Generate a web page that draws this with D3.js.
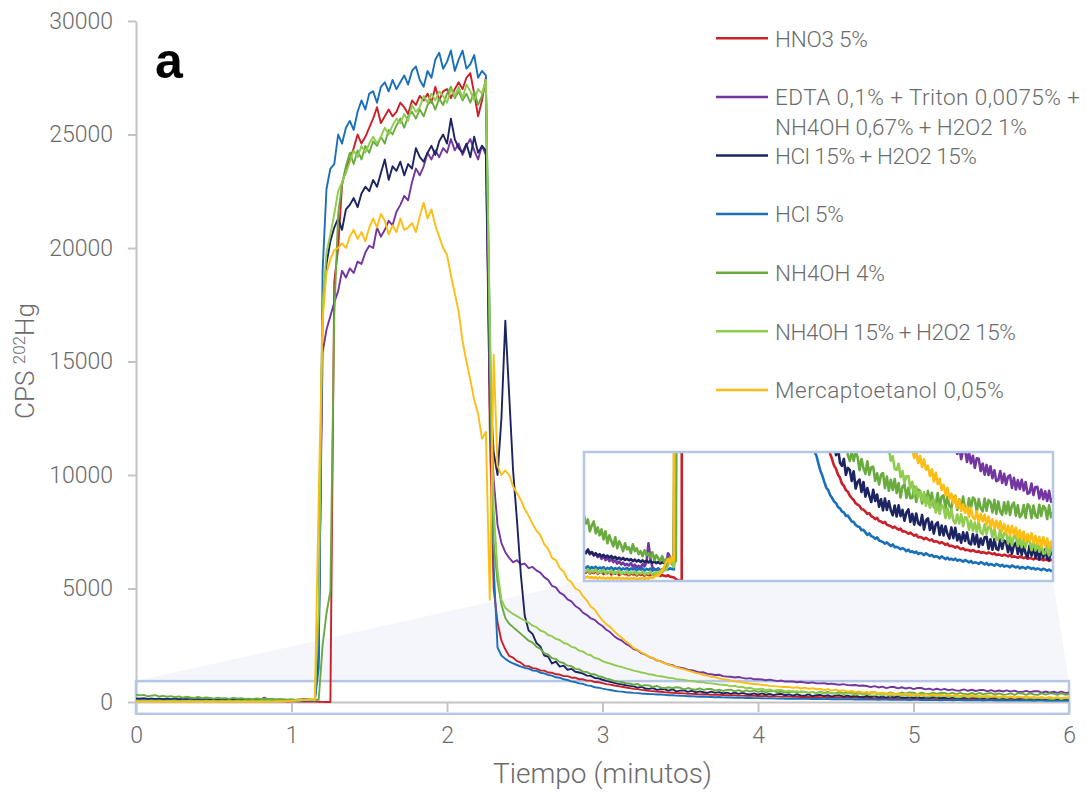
<!DOCTYPE html>
<html><head><meta charset="utf-8">
<script src="https://cdn.jsdelivr.net/npm/d3@7"></script>
<style>
body{margin:0;background:#fff;}
svg{display:block;}
</style></head><body>
<svg id="chart" width="1087" height="793"></svg>
<script>
// ---- sampling of the signal (minutes) ----
const sampleStart = 0, sampleStep = 0.025;

// ---- series names / colours ----
const seriesNames = ["HNO3 5%", "EDTA 0,1% + Triton 0,0075% + NH4OH 0,67% + H2O2 1%", "HCl 15% + H2O2 15%", "HCl 5%", "NH4OH 4%", "NH4OH 15% + H2O2 15%", "Mercaptoetanol 0,05%"];
const legendLines = [["HNO3 5%"], ["EDTA 0,1% + Triton 0,0075% +", "NH4OH 0,67% + H2O2 1%"], ["HCl 15% + H2O2 15%"], ["HCl 5%"], ["NH4OH 4%"], ["NH4OH 15% + H2O2 15%"], ["Mercaptoetanol 0,05%"]];
const seriesColors = ["#c9202a", "#7335a0", "#1d2462", "#1a70b8", "#6aab3f", "#8fcc4f", "#fdbd14"];

// ---- CPS 202Hg values, one per sample ----
const hno3 = [
50,42,55,38,46,40,52,36,44,48,35,42,39,45,33,40,37,43,30,38,41,34,36,29,39,33,35,28,37,31,34,27,36,30,28,33,26,31,35,25,30,27,24,29,22,20,18,
10,4,2,0,18500,
20000,22800,23500,23900,24400,25000,24600,24900,25300,25700,26200,25500,25800,26100,25800,26000,26400,26200,25900,26500,26300,26700,26500,26800,26400,27100,26500,26900,27000,26600,27000,27300,27000,27500,27700,26800,25800,26500,27500,
12000,5000,3500,2700,2320,2030,1950,1800,1730,1590,1580,1490,1470,1390,1380,1300,1290,1220,1210,1140,1140,1070,1070,1000,1000,940,940,880,870,
830,790,765,725,700,672,640,612,580,565,535,520,490,480,458,450,430,418,408,392,385,378,362,360,350,338,342,326,322,312,318,302,
300,292,298,283,280,276,268,274,265,258,264,250,250,246,238,244,236,228,234,220,222,218,210,218,210,204,210,198,200,198,190,196,
190,182,188,176,178,174,168,174,166,160,166,155,157,155,150,156,150,146,150,142,145,143,138,144,140,135,140,131,134,132,127,133,
129,124,130,121,124,122,117,123,120,115,120,112,116,114,109,115,112,107,112,104,108,106,101,107,104];

const edta = [
150,140,160,135,145,128,138,120,130,112,125,105,118,100,110,95,104,88,98,84,92,80,86,78,90,72,82,70,76,68,85,74,95,190,110,70,60,55,64,52,58,62,70,140,120,95,80,
3000,15400,16400,17000,17600,18100,19000,18700,19100,18900,19400,19300,19800,20100,20000,20900,20500,20800,21200,21000,21600,21900,22300,22100,22900,23500,23200,23600,24200,23900,24300,24000,24400,24200,24800,24300,24600,24100,24500,24800,24300,23900,24500,24100,
13000,9800,7800,7000,6600,
6350,6150,6250,6050,6100,5900,5950,5800,5700,5500,5380,5120,5050,4820,4720,4520,4430,4230,4120,3930,3830,3680,3620,3460,
3350,3180,3070,2900,2780,2700,2560,2470,2330,2280,2150,2090,1980,1930,1830,1790,1710,1650,1620,1540,1510,1480,1410,1400,
1350,1300,1310,1240,1220,1190,1200,1140,1120,1110,1080,1100,1060,1030,1050,1000,1000,990,960,985,950,920,945,900,
900,905,870,890,860,835,865,820,820,830,795,810,780,760,785,745,740,750,715,725,
705,655,700,640,675,614,658,661,600,649,593,631,570,618,616,554,592,536,585,534,578,518,558,503,
508,554,494,540,485,526,533,469,520,461,508,464,510,456,498,439,445,491,433,474,475,416,461,412,452,403,454,399,415];

const hcl15 = [
150,142,155,138,146,132,140,128,135,124,132,120,128,118,126,114,122,110,118,108,116,106,112,104,110,100,108,98,105,96,104,95,102,94,100,92,98,90,96,88,95,90,98,92,100,96,90,
2000,17500,19300,20300,20900,21300,20800,21700,21900,22200,21800,22400,22700,22500,23000,22700,23300,23900,23000,23600,23400,23800,23200,23700,23500,24400,24000,23800,24200,24500,24100,24700,25000,24600,25700,24800,24400,24200,24600,24000,24900,24200,24500,24300,
14000,11000,10000,12500,16800,13500,10200,8000,5600,3800,3150,3000,2600,2450,2050,2000,1700,1780,1560,1600,1420,1460,1330,1300,1250,1160,1150,1060,1040,
980,930,885,840,800,775,738,712,
690,634,668,596,580,615,535,570,560,504,553,466,500,511,448,499,425,468,430,398,460,403,436,374,412,356,415,358,402,356,331,380,
325,381,327,358,304,345,361,297,338,284,340,291,282,333,259,305,316,257,298,239,285,296,232,279,230,276,237,214,270,216,268,204,236,193,245,202,244,192,184,237,
185,233,171,214,182,220,223,162,210,158,211,163,156,209,162,204,197,145,189,137,180,193,136,179,132,180,138,121,179,127,175,118,156,110,163,117,160,113,107,155,128];

const hcl5 = [
70,66,74,62,70,64,72,60,68,63,70,58,66,61,69,57,65,60,67,56,64,59,66,55,63,58,65,54,62,57,64,53,61,56,63,52,60,55,62,51,59,54,61,58,64,60,58,
1500,19000,22600,23500,23700,25000,24600,25300,25600,25200,26000,26500,26100,26800,26900,26400,27100,27300,26900,27400,27000,27300,27600,27200,27800,28000,27400,27100,27800,27500,28300,28600,27900,28200,28700,27800,28300,28700,27900,28100,28500,27500,27800,27600,
16500,6000,2400,2050,1900,1780,1700,1630,1560,
1500,1470,1390,1370,1290,1260,1190,1160,1090,1070,1000,970,910,880,820,800,730,710,650,630,
590,555,530,498,470,458,432,418,400,392,372,366,350,346,328,330,315,300,298,282,275,272,256,258,
245,232,240,226,222,212,220,204,200,196,188,195,185,176,184,170,172,168,160,166,160,150,158,146,
150,142,148,136,141,138,130,140,133,126,132,121,125,122,114,124,117,110,118,108,112,106,113,102,
107,104,97,106,100,94,101,90,94,92,86,95,90,84,91,80,85,83,77,86,81,75,82,72,
77,75,69,78,73,68,74,64,70,68,62,71,67,61,66,58,63,60,55,62,58,52,58,50,54];

const nh4oh4 = [
330,290,310,250,280,300,240,270,230,260,210,250,190,230,200,175,220,165,200,180,150,190,160,170,140,185,150,165,135,150,125,155,130,140,120,145,105,130,115,100,125,95,110,90,120,85,100,
100,2500,3900,4900,17000,21500,22800,23600,24200,23700,24300,23900,24500,24200,24700,24500,24900,24600,25200,25000,25400,25700,25300,25800,26000,25700,26100,25800,26300,26500,26100,26600,26300,26800,27100,26600,26900,26500,26800,26400,26900,26300,26700,27400,
15000,7000,5300,4300,3700,3450,3300,3150,3000,2850,
2700,2620,2440,2340,2150,2090,1930,1890,1760,1720,1600,1580,1460,1440,1340,1320,1230,1220,1140,
1100,1030,990,930,900,880,825,815,
760,795,710,745,730,660,710,635,605,650,605,650,625,558,615,568,540,603,535,573,575,504,543,486,535,544,468,526,455,510,459,514,
443,494,420,476,487,419,470,417,418,476,398,461,453,391,443,391,453,396,444,372,385,443,376,424,432,366,425,378,367,421,430,358,412,361,425,364,353,417,367,421,
410,349,413,367,351,415,354,408,397,346,409,338,401,350,333,397,340,399,333,381,395,329,382,321,334,383,318,387,376,316,380,330,319,384,328,378,367,312,381,321,345];

const nh4oh15 = [
55,48,60,42,52,45,58,40,50,44,56,38,48,42,54,36,46,40,52,35,45,39,50,34,44,38,48,33,42,37,47,32,41,36,46,31,40,45,38,50,42,60,55,80,110,95,70,
4000,17500,19800,20600,21500,22500,22900,23300,23800,24300,24000,24500,24200,24600,24900,24600,24900,25300,25000,25400,25700,25500,25900,25600,26300,26000,26200,26700,26400,26800,26500,26900,26700,26400,27000,26700,27100,26600,27200,26900,26500,27000,26800,27400,
17000,8500,5800,4500,4150,4000,3880,3780,3680,3580,
3500,3360,3300,3150,3090,2950,2900,2780,2730,2600,2560,2430,2390,2260,2220,2100,2060,1940,1900,
1800,1740,1690,1630,1580,1540,1480,1440,1380,1350,1300,1270,1220,1200,1150,1135,1100,1070,1050,1010,990,975,940,930,900,870,865,830,820,800,770,760,
740,690,715,655,670,606,628,564,560,591,523,554,495,529,528,466,500,435,475,420,450,406,448,379,425,369,403,411,345,389,339,383,372,317,366,316,360,305,290,335,
290,336,276,322,317,258,304,254,295,246,298,244,235,286,238,274,270,222,268,205,211,258,200,241,243,190,232,179,226,228,176,218,170,212,169,211,203,155,202,154,
196,148,186,138,140,183,130,173,150];

const mercapto = [
25,18,22,15,20,14,19,12,18,13,17,11,16,12,18,10,15,12,17,10,14,11,16,9,14,10,15,9,13,11,16,10,14,12,18,15,22,30,25,40,55,70,95,110,90,120,100,
9000,16800,18900,19500,19900,20000,
20200,20000,20500,20800,20400,20700,20300,20900,21300,20900,21500,21200,20600,21000,20700,21300,20800,20900,21100,20700,21400,22000,21300,21700,21000,20500,20000,19700,18800,18000,17200,15900,15000,14200,13300,12700,11600,11900,
4500,15300,10400,10000,10200,10000,9500,9200,8900,8500,
8200,7850,7550,7350,6950,6750,6350,6250,5900,5750,5400,5280,5000,4920,4650,4470,4200,4070,3800,
3600,3420,3300,3120,2950,2830,2660,2540,2380,2300,2180,2100,1990,1930,1840,1780,1700,1650,1590,1530,1480,1440,1380,1340,
1280,1250,1190,1160,1110,1090,1040,1010,980,950,910,890,860,840,805,795,780,755,740,712,700,690,668,662,
660,620,650,595,630,574,613,561,580,529,563,501,545,488,515,458,485,433,470,413,440,391,428,369,
410,353,385,343,375,324,368,321,310,351,298,339,300,335,285,325,275,311,263,304,265,301,251,287,
242,279,230,277,233,269,220,256,212,249,200,237,203,240,192,228,185,222,174,220,177,214,166,198,180];

const seriesValues = [hno3, edta, hcl15, hcl5, nh4oh4, nh4oh15, mercapto];

// ---- axes ----
const xDomain = [0, 6];
const yDomain = [0, 30000];
const xTicks = [0, 1, 2, 3, 4, 5, 6];
const yTicks = [0, 5000, 10000, 15000, 20000, 25000, 30000];
const zoomBandCps = [-520, 920];     // highlighted band on the main chart
const insetDomainCps = [0, 650];     // y range shown in the magnified inset

// ================= drawing =================
const FONT = 'Roboto, "Open Sans", "DejaVu Sans", sans-serif';
const AXIS_COLOR = '#c4c4c4';
const TEXT_COLOR = '#6b6b6b';
const BAND_COLOR = '#b4c7e7';
const svg = d3.select('#chart');

const plot = {left: 136, right: 1069, top: 21, bottom: 702};
const x = d3.scaleLinear().domain(xDomain).range([plot.left, plot.right]);
const y = d3.scaleLinear().domain(yDomain).range([plot.bottom, plot.top]);

const series = seriesNames.map((name, k) => ({
  name, color: seriesColors[k],
  values: seriesValues[k].map((v, i) => ({t: sampleStart + i * sampleStep, v}))
}));

const inset = {x0: 584, y0: 452, x1: 1053, y1: 581};
const xi = d3.scaleLinear().domain(xDomain).range([inset.x0, inset.x1]);
const yi = d3.scaleLinear().domain(insetDomainCps).range([inset.y1, inset.y0]);

// shaded connector between band and inset
const bandTop = y(zoomBandCps[1]);
svg.append('path')
  .attr('d', `M${x(xDomain[0])},${bandTop}L${inset.x0},${inset.y1}L${inset.x1},${inset.y1}L${x(xDomain[1])},${bandTop}Z`)
  .attr('fill', '#f4f6fc');

// y axis
const gy = svg.append('g').attr('transform', `translate(${plot.left},0)`)
  .call(d3.axisLeft(y).tickValues(yTicks).tickSize(8).tickPadding(15).tickSizeOuter(0).tickFormat(d3.format('d')));
gy.attr('font-family', FONT).attr('font-size', 23);
gy.select('.domain').attr('stroke', AXIS_COLOR).attr('stroke-width', 2);
gy.selectAll('.tick line').attr('stroke', AXIS_COLOR).attr('stroke-width', 2);
gy.selectAll('.tick text').attr('fill', TEXT_COLOR).attr('font-weight', 300);

// x axis
const gx = svg.append('g').attr('transform', `translate(0,${plot.bottom})`)
  .call(d3.axisBottom(x).tickValues(xTicks).tickSize(10).tickPadding(15).tickSizeOuter(0).tickFormat(d3.format('d')));
gx.attr('font-family', FONT).attr('font-size', 23);
gx.select('.domain').attr('stroke', AXIS_COLOR).attr('stroke-width', 2);
gx.selectAll('.tick line').attr('stroke', AXIS_COLOR).attr('stroke-width', 2);
gx.selectAll('.tick text').attr('fill', TEXT_COLOR).attr('font-weight', 300);

// highlighted band
svg.append('rect')
  .attr('x', x(xDomain[0])).attr('y', bandTop)
  .attr('width', x(xDomain[1]) - x(xDomain[0])).attr('height', y(zoomBandCps[0]) - bandTop)
  .attr('fill', 'none').attr('stroke', BAND_COLOR).attr('stroke-width', 2.5);

// main lines
const line = d3.line().x(d => x(d.t)).y(d => y(d.v));
svg.append('g').selectAll('path').data(series).join('path')
  .attr('d', d => line(d.values))
  .attr('fill', 'none').attr('stroke', d => d.color)
  .attr('stroke-width', 1.9).attr('stroke-linejoin', 'round');

// inset
svg.append('defs').append('clipPath').attr('id', 'insetClip').append('rect')
  .attr('x', inset.x0).attr('y', inset.y0).attr('width', inset.x1 - inset.x0).attr('height', inset.y1 - inset.y0);
svg.append('rect').attr('x', inset.x0).attr('y', inset.y0)
  .attr('width', inset.x1 - inset.x0).attr('height', inset.y1 - inset.y0).attr('fill', '#fff');
const lineI = d3.line().x(d => xi(d.t)).y(d => yi(d.v));
svg.append('g').attr('clip-path', 'url(#insetClip)').selectAll('path').data(series).join('path')
  .attr('d', d => lineI(d.values))
  .attr('fill', 'none').attr('stroke', d => d.color)
  .attr('stroke-width', 2.6).attr('stroke-linejoin', 'round');
svg.append('rect').attr('x', inset.x0).attr('y', inset.y0)
  .attr('width', inset.x1 - inset.x0).attr('height', inset.y1 - inset.y0)
  .attr('fill', 'none').attr('stroke', BAND_COLOR).attr('stroke-width', 2.5);

// legend
const legY0 = 38.3, legStep = 58.6;
const legendTextWidths = [[93], [305, 252], [202], [69], [110], [241], [229]];
const leg = svg.append('g').attr('font-family', FONT).attr('font-size', 22.5).attr('font-weight', 300).attr('fill', TEXT_COLOR);
series.forEach((s, k) => {
  const ly = legY0 + k * legStep;
  leg.append('line').attr('x1', 716).attr('x2', 768).attr('y1', ly).attr('y2', ly)
    .attr('stroke', s.color).attr('stroke-width', 2.5);
  legendLines[k].forEach((txt, j) => {
    leg.append('text').attr('x', 775).attr('y', ly + 8.3 + j * 29.3)
      .attr('textLength', legendTextWidths[k][j]).attr('lengthAdjust', 'spacing').text(txt);
  });
});

// axis titles
svg.append('text').attr('x', (plot.left + plot.right) / 2).attr('y', 783)
  .attr('text-anchor', 'middle').attr('font-family', FONT).attr('font-size', 28).attr('font-weight', 300)
  .attr('fill', TEXT_COLOR).text('Tiempo (minutos)');
const yt = svg.append('text').attr('transform', 'translate(34,361) rotate(-90)')
  .attr('text-anchor', 'middle').attr('font-family', FONT).attr('font-size', 26).attr('font-weight', 300)
  .attr('fill', TEXT_COLOR);
yt.append('tspan').text('CPS ');
yt.append('tspan').attr('font-size', 17).attr('dy', -9).text('202');
yt.append('tspan').attr('dy', 9).text('Hg');

// panel letter
svg.append('text').attr('x', 155).attr('y', 78).attr('font-family', '"Liberation Sans", Arial, sans-serif')
  .attr('font-weight', 'bold').attr('font-size', 50).attr('fill', '#000').text('a');
</script>
</body></html>
